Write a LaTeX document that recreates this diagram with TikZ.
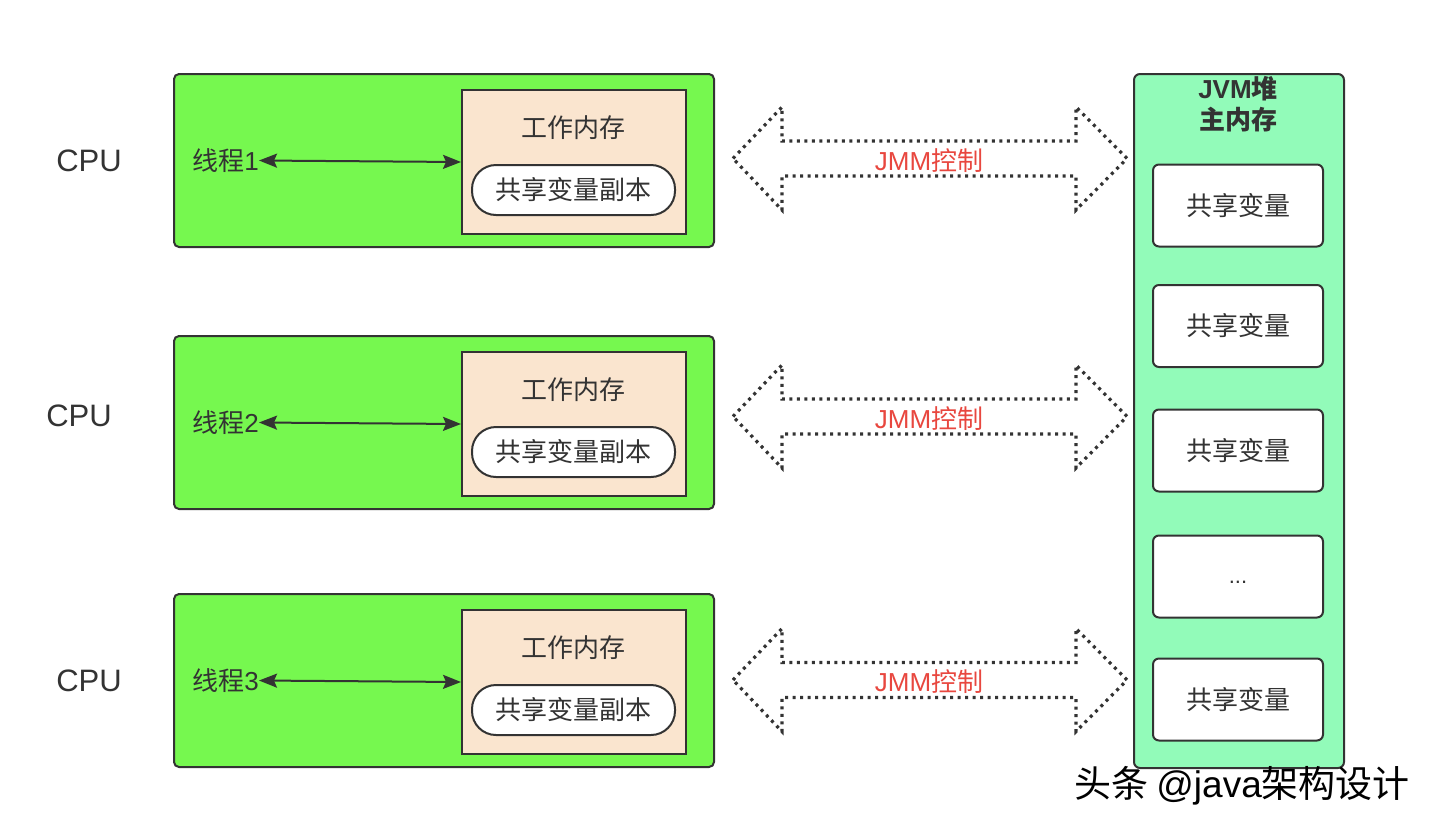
\documentclass[tikz,border=0pt]{standalone}
\usepackage{fontspec}
\setmainfont{Noto Sans CJK SC}
\newfontfamily\lat{Liberation Sans}
\usetikzlibrary{arrows.meta}
\definecolor{gfill}{HTML}{76F84F}
\definecolor{pfill}{HTML}{FAE5CF}
\definecolor{mfill}{HTML}{92FBB9}
\definecolor{ink}{HTML}{333333}
\definecolor{jred}{HTML}{E8473F}
\tikzset{
  greenbox/.style={draw=ink, line width=2pt, fill=gfill, rounded corners=5pt, anchor=north west, minimum width=540pt, minimum height=173pt, inner sep=0pt},
  peachbox/.style={draw=ink, line width=2pt, fill=pfill, anchor=north west, minimum width=224pt, minimum height=144pt, inner sep=0pt},
  pill/.style={draw=ink, line width=2pt, fill=white, rounded corners=24pt, minimum width=203pt, minimum height=50pt, inner sep=0pt, text=ink, font=\fontsize{26}{30}\selectfont},
  lbl/.style={inner sep=0pt, text=ink, font=\fontsize{26}{30}\selectfont},
  cpulbl/.style={inner sep=0pt, text=ink, font=\fontsize{31}{34}\selectfont\lat},
  jmm/.style={inner sep=0pt, text=jred, font=\fontsize{26}{30}\selectfont},
  conn/.style={draw=ink, line width=2pt, {Stealth[length=18pt,width=14pt,inset=3pt]}-{Stealth[length=18pt,width=14pt,inset=3pt]}},
  dotarrow/.style={draw=ink, line width=3.2pt, dash pattern=on 3pt off 4.5pt},
  heapbox/.style={draw=ink, line width=2pt, fill=mfill, rounded corners=6pt, anchor=north west, minimum width=210pt, minimum height=694pt, inner sep=0pt},
  varbox/.style={draw=ink, line width=2pt, fill=white, rounded corners=6pt, minimum width=170pt, minimum height=82pt, inner sep=0pt, text=ink, font=\fontsize{26}{30}\selectfont},
}
\begin{document}
\begin{tikzpicture}[x=1pt,y=-1pt]
\useasboundingbox (0,0) rectangle (1434,828);
% heap
\node[heapbox] (heap) at (1133,73) {};
\node[inner sep=0pt, text=ink, align=center, font=\fontsize{26}{31}\selectfont\bfseries] (htitle) at (1238,104.5) {{\lat JVM}堆\\主内存};
\node[varbox] (v1) at (1238,205.5) {共享变量};
\node[varbox] (v2) at (1238,326) {共享变量};
\node[varbox] (v3) at (1238,450.5) {共享变量};
\node[varbox] (v4) at (1238,576.5) {};
\node[inner sep=0pt, text=ink, font=\fontsize{22}{26}\selectfont\lat] (v4t) at (1238,582) {...};
\node[varbox] (v5) at (1238,699.5) {共享变量};
% rows
\foreach \i/\gy/\cx/\cy/\ay in {1/73/89/161/158.5, 2/335/79/416/416.5, 3/593/89/681/680}{
  \node[greenbox] (g\i) at (173,\gy) {};
  \node[peachbox] (w\i) at (461,{\gy+16}) {};
  \node[lbl] (wl\i) at (573,{\gy+55}) {工作内存};
  \node[pill] (p\i) at (573.5,{\gy+117}) {共享变量副本};
  \node[lbl, anchor=east] (t\i) at (259,{\gy+87.5}) {线程{\lat\i}};
  \draw[conn] (t\i.east) -- (w\i.west);
  \node[cpulbl] (c\i) at (\cx,\cy) {CPU};
  \draw[dotarrow] (733,\ay) -- (782,{\ay-51.5}) -- (782,{\ay-17.5}) -- (1076,{\ay-17.5}) -- (1076,{\ay-51.5}) -- (1127,\ay) -- (1076,{\ay+51.5}) -- (1076,{\ay+17.5}) -- (782,{\ay+17.5}) -- (782,{\ay+51.5}) -- cycle;
  \node[jmm] (j\i) at (929,{\ay+2}) {{\lat JMM}控制};
}
% watermark
\node[inner sep=0pt, text=black, font=\fontsize{37}{40}\selectfont] (wm) at (1242,786) {头条 {\lat @java}架构设计};
\end{tikzpicture}
\end{document}
